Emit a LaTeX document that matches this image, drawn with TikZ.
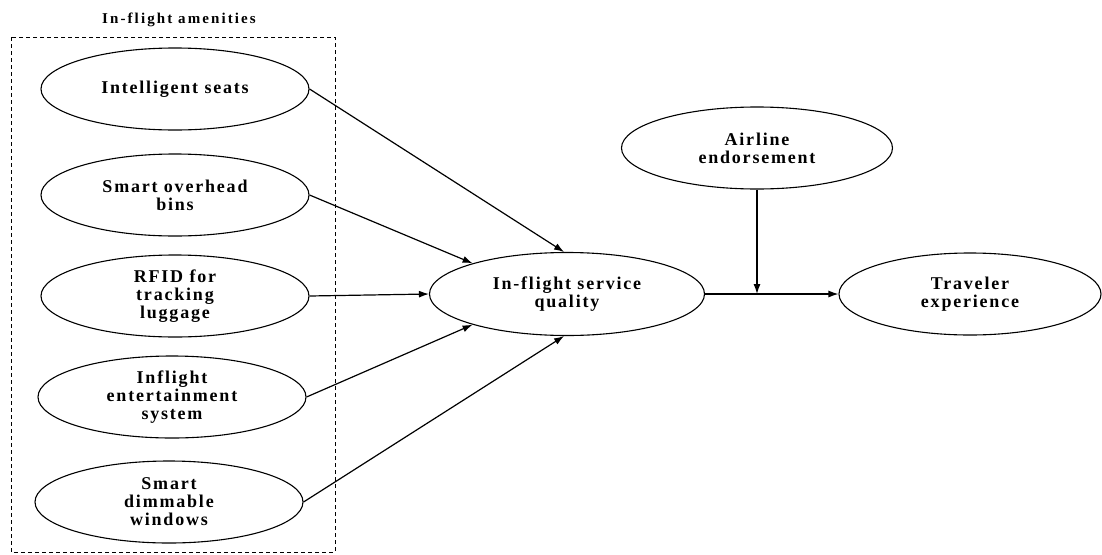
\documentclass[tikz,border=0pt]{standalone}
\usepackage{fontspec}
\setmainfont{Liberation Serif}
\usetikzlibrary{shapes.geometric}
\usetikzlibrary{arrows.meta}
\usetikzlibrary{calc}

\tikzset{
  construct/.style={draw,ellipse,line width=1.1pt,minimum width=268pt,minimum height=82pt,
    inner sep=0pt,align=center,font=\fontsize{18}{18}\selectfont\bfseries\addfontfeature{LetterSpace=10}},
  path/.style={line width=1.2pt,-{Latex[length=10pt,width=7pt]}}
}

\begin{document}
\begin{tikzpicture}[x=1pt,y=-1pt]
      \useasboundingbox (0,0) rectangle (1102,554);
      % amenities group
      \draw[dashed,line width=0.9pt,dash pattern=on 4pt off 3pt] (11,37) rectangle (335,552);
      \node[font=\fontsize{15}{16}\selectfont\bfseries\addfontfeature{LetterSpace=14}] (group) at (179,20) {In-flight amenities};

      \node[construct] (seats) at (175,89) {Intelligent seats};
      \node[construct] (bins) at (175,195) {Smart overhead\\bins};
      \node[construct] (rfid) at (175,296) {RFID for\\tracking\\luggage};
      \node[construct] (ife) at (172,397) {Inflight\\entertainment\\system};
      \node[construct] (windows) at (169,502) {Smart\\dimmable\\windows};

      \node[construct,minimum width=275pt,minimum height=83pt] (quality) at (567,294) {In-flight service\\quality};
      \node[construct,minimum width=271pt] (endorse) at (757,148) {Airline\\endorsement};
      \node[construct,minimum width=262pt] (experience) at (970,294) {Traveler\\experience};

      \draw[path] (seats.east) -- (quality.94);
      \draw[path] (bins.east) -- (quality.162);
      \draw[path] (rfid.east) -- (quality.west);
      \draw[path] (ife.east) -- (quality.198);
      \draw[path] (windows.east) -- (quality.266);

      \coordinate (m) at (endorse.south |- quality.east);
      \draw[path] (quality.east) -- (experience.west);
      \draw[path] (endorse.south) -- (m);
\end{tikzpicture}
\end{document}
